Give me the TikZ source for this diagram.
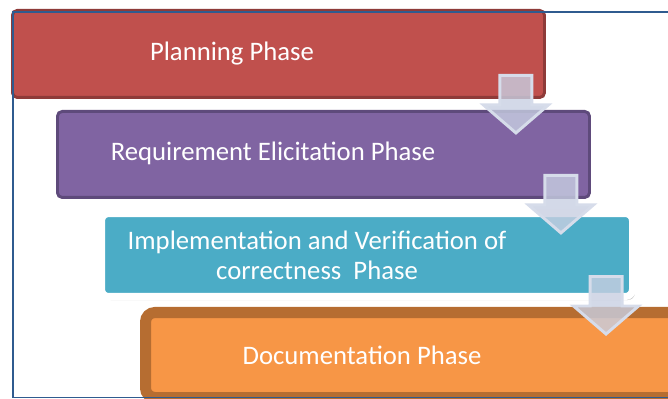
\documentclass[tikz,border=0pt]{standalone}
\usepackage{fontspec}
\setmainfont{Carlito}
\usetikzlibrary{calc,shadows}
\definecolor{planred}{HTML}{C0504D}
\definecolor{planredline}{HTML}{8E3B39}
\definecolor{reqpurple}{HTML}{8064A2}
\definecolor{reqpurpleline}{HTML}{5E4A7B}
\definecolor{implteal}{HTML}{4BACC6}
\definecolor{docorange}{HTML}{F79646}
\definecolor{docorangeline}{HTML}{B66D31}
\definecolor{frameblue}{HTML}{2F5B8F}
\definecolor{flowfill}{HTML}{C8CFE2}
\definecolor{flowline}{HTML}{D6DCEA}

\begin{document}
\begin{tikzpicture}[
  x=0.03cm, y=-0.03cm,
  phase/.style={anchor=north west, rounded corners=4pt, line width=2.5pt, inner sep=0pt},
  lbl/.style={text=white, font=\fontsize{22.8}{25.5}\selectfont, align=center},
  flow/.style={fill=flowfill, fill opacity=0.8, draw=flowline, line width=2.5pt},
]

% one unit = one pixel of the slide
\def\px{0.03cm}
\clip (0,0) rectangle (668,399);

% ============ phase boxes ============
% planning
\node[phase, fill=planred, draw=planredline,
  minimum width=532*\px, minimum height=87*\px] (plan) at (11,9) {};
\node[lbl] (plantxt) at (232,54) {Planning Phase};

% requirement elicitation
\node[phase, fill=reqpurple, draw=reqpurpleline,
  minimum width=532*\px, minimum height=86*\px] (reqs) at (56,110) {};
\node[lbl] (reqstxt) at (273,153) {Requirement Elicitation Phase};

% implementation, white rim and soft shadow
\node[phase, fill=implteal, draw=white, line width=6pt, rounded corners=6pt,
  drop shadow={shadow xshift=2pt, shadow yshift=-3pt, opacity=0.45},
  minimum width=531*\px, minimum height=83*\px] (impl) at (98,210) {};
\node[lbl] (impltxt) at (317,255)
  {Implementation and Verification of\\correctness\ \ Phase};

% documentation, runs off the right edge
\node[phase, fill=docorange, draw=docorangeline, line width=9.4pt, rounded corners=8pt,
  minimum width=600*\px, minimum height=85*\px] (docs) at (140,307) {};
\node[lbl] (docstxt) at (362,355) {Documentation Phase};

% ============ down arrows between phases ============
\foreach \from in {plan,reqs,impl}
  \draw[flow] ($(\from.south east)+(-30,-23.5)$)
    ++(-16,0) -- ++(32,0) -- ++(0,29.5) -- ++(16.5,0)
    -- ++(-32.5,28) -- ++(-32.5,-28) -- ++(16.5,0) -- cycle;

% ============ slide frame ============
\draw[frameblue, line width=1.2pt] (13,12) rectangle (720,397.5);

\end{tikzpicture}
\end{document}
